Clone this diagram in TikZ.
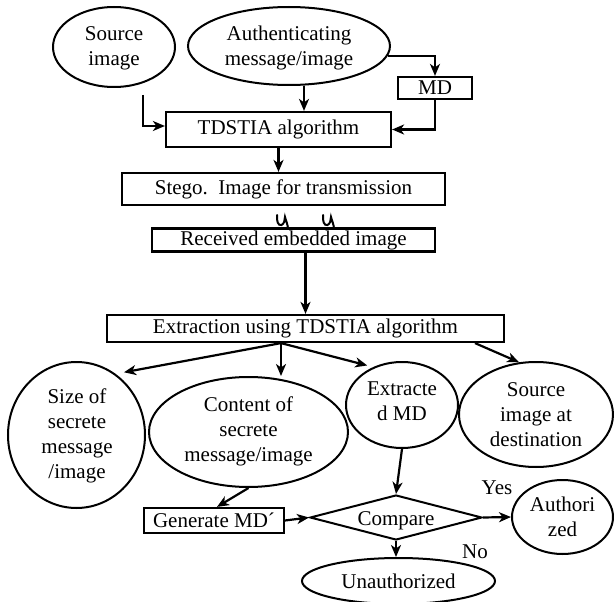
\documentclass[tikz,border=0pt]{standalone}
\usepackage{fontspec}
\setmainfont{Liberation Serif}
\usetikzlibrary{shapes.geometric,arrows.meta}
\begin{document}
\begin{tikzpicture}[x=1pt,y=-1pt,
  font=\fontsize{21}{25}\selectfont,
  box/.style={draw,line width=2.2pt,rectangle,inner sep=0pt},
  ell/.style={draw,line width=2pt,ellipse,inner sep=0pt},
  txt/.style={align=center,inner sep=0pt},
  arr/.style={line width=2.2pt,-{Stealth[length=12pt,width=10pt,inset=3.5pt]}}]
\useasboundingbox (0,0) rectangle (614,602);
% top
\node[ell,minimum width=122pt,minimum height=80pt] (src) at (114,47) {};
\node[txt] (srcT) at (114,48.5) {Source\\image};
\node[ell,minimum width=202pt,minimum height=78pt] (auth) at (289,46) {};
\node[txt] (authT) at (289,48) {Authenticating\\message/image};
\node[box,minimum width=74pt,minimum height=22pt] (md) at (435,88) {MD};
\node[box,minimum width=225pt,minimum height=35pt] (tdstia) at (278.5,129.5) {TDSTIA algorithm};
\node[box,minimum width=323pt,minimum height=32pt] (stego) at (283.5,189) {Stego.\ \ Image for transmission};
\node[box,minimum width=283pt,minimum height=23pt] (recv) at (293.5,240) {Received embedded image};
\node[box,minimum width=397pt,minimum height=27pt] (extr) at (305.5,328.5) {Extraction using TDSTIA algorithm};
% middle ellipses
\node[ell,minimum width=137pt,minimum height=146pt] (size) at (76.5,435) {};
\node[txt] (sizeT) at (77,436) {Size of\\secrete\\message\\/image};
\node[ell,minimum width=199pt,minimum height=110pt] (cont) at (248.5,432) {};
\node[txt] (contT) at (248.5,431.5) {Content of\\secrete\\message/image};
\node[ell,minimum width=112pt,minimum height=86pt] (xmd) at (402,405) {};
\node[txt] (xmdT) at (402,401.5) {Extracte\\d MD};
\node[ell,minimum width=154pt,minimum height=105pt] (sd) at (536,414.5) {};
\node[txt] (sdT) at (536,414.5) {Source\\image at\\destination};
% bottom
\node[box,minimum width=140pt,minimum height=25pt] (gen) at (214,520.5) {Generate MD´};
\node[draw,line width=2pt,diamond,shape aspect=3.82,minimum width=172pt,minimum height=45pt,inner sep=0pt] (cmp) at (396,517.5) {};
\node[txt] (cmpT) at (396,521) {Compare};
\node[ell,minimum width=101pt,minimum height=74pt] (autz) at (562.5,517) {};
\node[txt] (autzT) at (562.5,517) {Authori\\zed};
\node[ell,minimum width=193pt,minimum height=46pt] (unau) at (398.5,581) {};
\node[txt] (unauT) at (398.5,581) {Unauthorized};
\node[txt] (yes) at (497,488) {Yes};
\node[txt] (no) at (475,552) {No};
% connectors
\coordinate (s1) at (143,95);
\draw[arr] (s1) |- ([yshift=3.5pt]tdstia.west);
\draw[arr] ([xshift=15pt]auth.south) -- ([xshift=25.5pt]tdstia.north);
\draw[arr] (auth.-6.5) -| (md.north);
\draw[arr] (md.south) |- (tdstia.east);
\draw[arr] (tdstia.south) -- (tdstia.south |- stego.north);
\draw[arr] (extr.north |- recv.south) -- (extr.north);
\coordinate (ex1) at ([xshift=-24.5pt]extr.south);
\coordinate (ex2) at ([xshift=169.5pt]extr.south);
\draw[arr] (ex1) -- ([shift={(4pt,5pt)}]size.53.6);
\draw[arr] (ex1) -- (ex1 |- cont.north);
\draw[arr] (ex1) -- ([shift={(-3pt,3pt)}]xmd.131);
\draw[arr] (ex2) -- (sd.108.6);
\draw[arr] (xmd.south) -- (cmp.north);
\draw[arr] (cont.south) -- ([xshift=3pt]gen.north);
\draw[arr] (gen.east) -- (cmp.west);
\draw[arr] (cmp.east) -- (autz.west);
\draw[arr] (cmp.south) -- (cmp.south |- unau.north);
% interference marks
\foreach \dx in {0,46}{
  \draw[line width=2pt,line cap=round] (277+\dx,215) .. controls (276.5+\dx,221) and (278+\dx,226) .. (281.5+\dx,225)
    .. controls (284+\dx,224) and (285+\dx,220) .. (285+\dx,217)
    .. controls (286+\dx,221) and (288+\dx,225) .. (288+\dx,229);
}
\end{tikzpicture}
\end{document}
